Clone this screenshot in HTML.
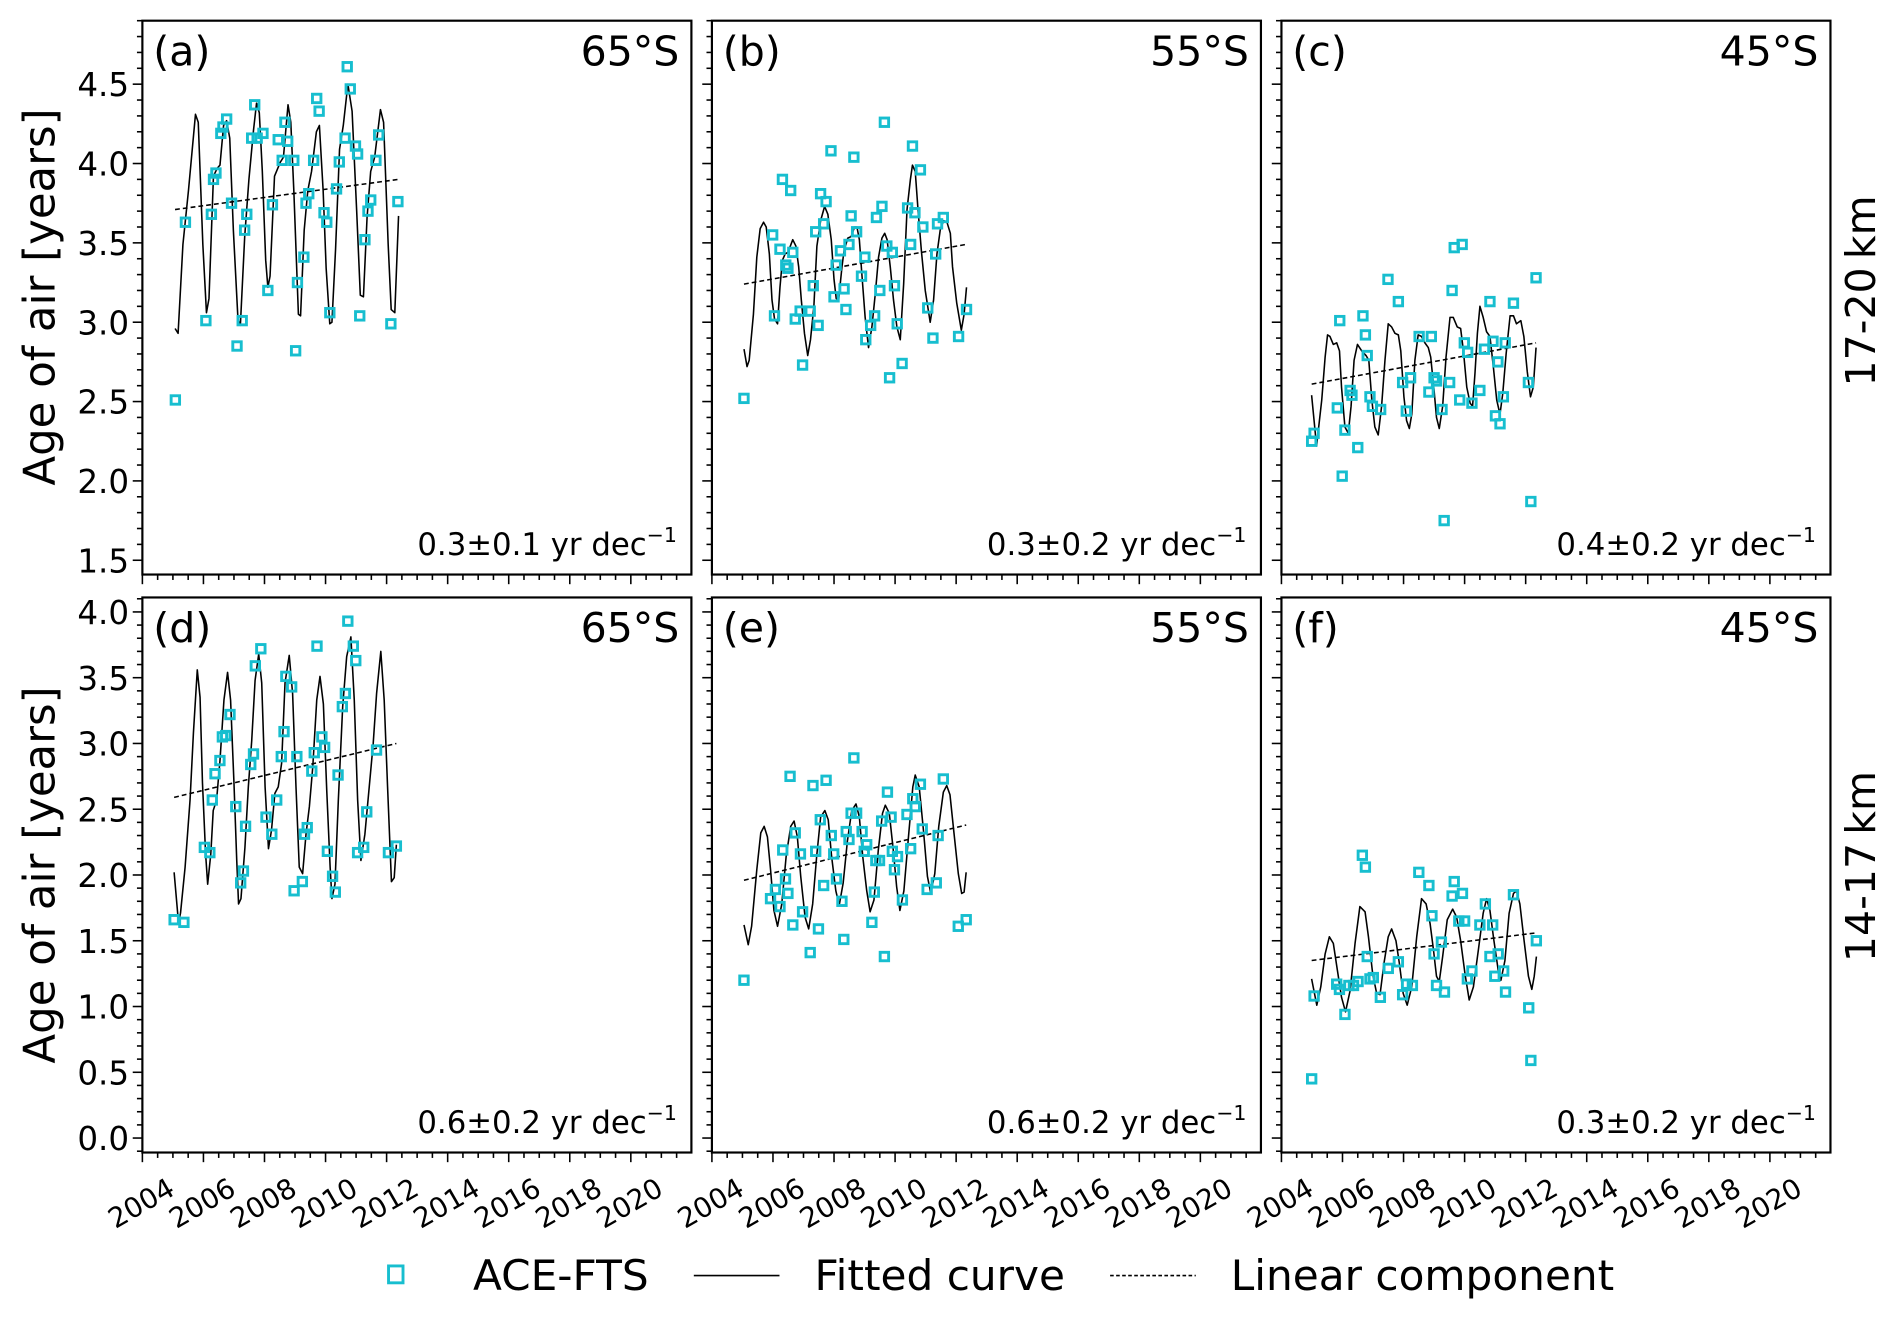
<!DOCTYPE html>
<html><head><meta charset="utf-8"><style>
html,body{margin:0;padding:0;background:#fff;}
svg{display:block;font-family:"DejaVu Sans","Liberation Sans",sans-serif;}
</style></head><body>
<svg id="fig" width="1892" height="1318" viewBox="0 0 1568 1092" xmlns="http://www.w3.org/2000/svg"></svg>
<script>
// Panel (a)
const aPointYears=[2005.08,2005.41,2006.08,2006.26,2006.33,2006.41,2006.57,2006.64,2006.76,2006.92,2007.10,2007.27,2007.35,2007.42,2007.58,2007.68,2007.76,2007.95,2008.11,2008.26,2008.45,2008.58,2008.67,2008.76,2008.96,2009.02,2009.08,2009.29,2009.36,2009.45,2009.61,2009.71,2009.79,2009.95,2010.04,2010.14,2010.36,2010.45,2010.64,2010.71,2010.81,2010.98,2011.05,2011.12,2011.29,2011.39,2011.48,2011.65,2011.74,2012.14,2012.37];
const aPointValues=[2.51,3.63,3.01,3.68,3.90,3.94,4.19,4.23,4.28,3.75,2.85,3.01,3.58,3.68,4.16,4.37,4.16,4.19,3.20,3.74,4.15,4.02,4.26,4.14,4.02,2.82,3.25,3.41,3.75,3.81,4.02,4.41,4.33,3.69,3.63,3.06,3.84,4.01,4.16,4.61,4.47,4.11,4.06,3.04,3.52,3.70,3.77,4.02,4.18,2.99,3.76];
const aCurveYears=[2005.07,2005.17,2005.33,2005.51,2005.74,2005.83,2005.98,2006.10,2006.18,2006.33,2006.45,2006.54,2006.66,2006.76,2006.86,2006.98,2007.13,2007.21,2007.35,2007.49,2007.64,2007.74,2007.83,2007.93,2008.04,2008.11,2008.18,2008.33,2008.52,2008.62,2008.77,2008.86,2008.96,2009.11,2009.18,2009.30,2009.42,2009.54,2009.70,2009.80,2009.92,2010.02,2010.14,2010.21,2010.33,2010.46,2010.58,2010.73,2010.87,2011.02,2011.14,2011.24,2011.36,2011.48,2011.61,2011.80,2011.90,2012.05,2012.15,2012.27,2012.39];
const aCurveValues=[2.96,2.93,3.49,3.83,4.31,4.26,3.49,3.06,3.15,3.92,3.97,3.99,4.24,4.27,4.16,3.58,3.02,2.98,3.54,3.90,4.21,4.38,4.32,3.95,3.39,3.22,3.29,3.92,4.01,4.04,4.37,4.26,3.83,3.05,3.04,3.58,3.83,3.95,4.20,4.24,3.83,3.34,2.99,3.00,3.46,4.09,4.24,4.50,4.33,3.70,3.17,3.16,3.66,3.95,4.04,4.34,4.26,3.49,3.08,3.06,3.67];
const aTrendYears=[2005.07,2012.39];
const aTrendValues=[3.71,3.90];
// Panel (b)
const bPointYears=[2005.05,2005.99,2006.23,2006.31,2006.42,2006.49,2006.58,2006.65,2006.05,2006.73,2006.89,2006.97,2007.22,2007.32,2007.40,2007.48,2007.56,2007.66,2007.74,2007.90,2008.00,2008.07,2008.21,2008.33,2008.39,2008.49,2008.56,2008.65,2008.74,2008.90,2009.01,2009.04,2009.20,2009.33,2009.39,2009.50,2009.57,2009.65,2009.73,2009.82,2009.91,2009.98,2010.07,2010.23,2010.41,2010.51,2010.57,2010.65,2010.83,2010.91,2011.07,2011.24,2011.33,2011.39,2011.58,2012.08,2012.34];
const bPointValues=[2.52,3.55,3.46,3.90,3.36,3.34,3.83,3.44,3.04,3.02,3.07,2.73,3.07,3.23,3.57,2.98,3.81,3.62,3.76,4.08,3.16,3.36,3.45,3.21,3.08,3.49,3.67,4.04,3.57,3.29,3.41,2.89,2.98,3.04,3.66,3.20,3.73,4.26,3.48,2.65,3.44,3.23,2.99,2.74,3.72,3.49,4.11,3.69,3.96,3.60,3.09,2.90,3.43,3.62,3.66,2.91,3.08];
const bCurveYears=[2005.05,2005.15,2005.22,2005.36,2005.47,2005.58,2005.69,2005.78,2005.88,2005.97,2006.05,2006.15,2006.23,2006.31,2006.40,2006.49,2006.57,2006.65,2006.75,2006.84,2006.93,2007.03,2007.14,2007.23,2007.34,2007.44,2007.56,2007.69,2007.80,2007.91,2008.00,2008.07,2008.15,2008.26,2008.33,2008.45,2008.56,2008.67,2008.75,2008.83,2008.91,2009.02,2009.13,2009.24,2009.35,2009.46,2009.57,2009.66,2009.74,2009.84,2009.95,2010.06,2010.17,2010.28,2010.39,2010.50,2010.57,2010.66,2010.75,2010.86,2010.99,2011.15,2011.26,2011.37,2011.48,2011.59,2011.70,2011.81,2011.88,2012.02,2012.17,2012.26,2012.34];
const bCurveValues=[2.83,2.72,2.76,3.05,3.41,3.59,3.63,3.60,3.43,3.14,3.02,2.99,3.22,3.39,3.43,3.44,3.48,3.52,3.48,3.35,3.14,2.93,2.79,2.89,3.10,3.48,3.64,3.73,3.68,3.52,3.27,3.15,3.14,3.35,3.45,3.53,3.54,3.60,3.60,3.52,3.31,3.03,2.84,2.97,3.18,3.41,3.53,3.56,3.52,3.35,3.14,2.97,2.89,3.24,3.71,3.90,3.99,3.95,3.71,3.45,3.20,3.00,3.14,3.43,3.58,3.64,3.63,3.56,3.35,3.12,2.95,3.05,3.22];
const bTrendYears=[2005.05,2012.32];
const bTrendValues=[3.24,3.49];
// Panel (c)
const cPointYears=[2004.99,2005.07,2005.91,2005.83,2005.99,2006.08,2006.25,2006.31,2006.50,2006.67,2006.75,2006.81,2006.90,2006.98,2007.25,2007.49,2007.83,2007.97,2008.09,2008.23,2008.51,2008.83,2008.91,2009.00,2009.08,2009.26,2009.33,2009.51,2009.59,2009.66,2009.92,2009.84,2009.99,2010.10,2010.24,2010.50,2010.65,2010.83,2010.93,2011.01,2011.09,2011.16,2011.27,2011.33,2011.60,2012.09,2012.17,2012.34];
const cPointValues=[2.25,2.30,3.01,2.46,2.03,2.32,2.57,2.54,2.21,3.04,2.92,2.79,2.53,2.47,2.45,3.27,3.13,2.62,2.44,2.65,2.91,2.56,2.91,2.65,2.63,2.45,1.75,2.62,3.20,3.47,3.49,2.51,2.87,2.81,2.49,2.57,2.83,3.13,2.88,2.41,2.75,2.36,2.53,2.87,3.12,2.62,1.87,3.28];
const cCurveYears=[2004.99,2005.15,2005.32,2005.43,2005.51,2005.59,2005.70,2005.81,2005.90,2005.97,2006.08,2006.19,2006.28,2006.38,2006.49,2006.63,2006.77,2006.86,2006.96,2007.06,2007.17,2007.28,2007.39,2007.50,2007.61,2007.72,2007.83,2007.91,2008.01,2008.10,2008.19,2008.27,2008.37,2008.48,2008.59,2008.70,2008.81,2008.89,2009.00,2009.08,2009.17,2009.28,2009.39,2009.52,2009.63,2009.76,2009.87,2009.96,2010.07,2010.18,2010.26,2010.34,2010.42,2010.50,2010.61,2010.72,2010.83,2010.94,2011.05,2011.16,2011.25,2011.36,2011.49,2011.60,2011.70,2011.84,2011.94,2012.05,2012.16,2012.25,2012.34];
const cCurveValues=[2.54,2.22,2.51,2.78,2.92,2.91,2.86,2.87,2.82,2.59,2.34,2.30,2.47,2.76,2.86,2.82,2.79,2.76,2.51,2.34,2.29,2.47,2.76,2.99,2.97,2.93,2.92,2.82,2.53,2.38,2.33,2.42,2.76,2.92,2.91,2.87,2.84,2.78,2.57,2.40,2.33,2.47,2.78,3.03,3.03,2.97,2.96,2.82,2.59,2.49,2.47,2.68,2.93,3.10,3.03,2.94,2.91,2.72,2.51,2.42,2.55,2.80,3.04,3.04,2.99,3.01,2.91,2.69,2.53,2.59,2.84];
const cTrendYears=[2004.99,2012.34];
const cTrendValues=[2.61,2.87];
// Panel (d)
const dPointYears=[2005.04,2005.36,2006.03,2006.21,2006.29,2006.38,2006.54,2006.62,2006.73,2006.87,2007.06,2007.22,2007.31,2007.38,2007.55,2007.64,2007.70,2007.88,2008.05,2008.24,2008.40,2008.55,2008.64,2008.70,2008.89,2008.97,2009.06,2009.24,2009.31,2009.40,2009.55,2009.63,2009.72,2009.88,2009.97,2010.06,2010.23,2010.32,2010.41,2010.55,2010.65,2010.73,2010.91,2010.99,2011.05,2011.25,2011.35,2011.67,2012.06,2012.32];
const dPointValues=[1.66,1.64,2.21,2.17,2.57,2.77,2.87,3.05,3.06,3.22,2.52,1.94,2.03,2.37,2.84,2.92,3.59,3.72,2.44,2.31,2.57,2.90,3.09,3.51,3.43,1.88,2.90,1.95,2.31,2.36,2.79,2.93,3.74,3.05,2.97,2.18,1.99,1.87,2.76,3.28,3.38,3.93,3.74,3.63,2.17,2.21,2.48,2.95,2.17,2.22];
const dCurveYears=[2005.04,2005.18,2005.25,2005.40,2005.56,2005.67,2005.80,2005.89,2005.97,2006.07,2006.14,2006.24,2006.32,2006.43,2006.54,2006.67,2006.79,2006.89,2007.00,2007.09,2007.15,2007.23,2007.36,2007.47,2007.58,2007.69,2007.81,2007.91,2008.02,2008.13,2008.23,2008.34,2008.45,2008.56,2008.67,2008.81,2008.92,2009.03,2009.14,2009.25,2009.36,2009.47,2009.58,2009.71,2009.82,2009.93,2010.04,2010.15,2010.21,2010.31,2010.42,2010.56,2010.69,2010.83,2010.94,2011.05,2011.16,2011.29,2011.43,2011.56,2011.67,2011.81,2011.92,2012.03,2012.16,2012.25,2012.32];
const dCurveValues=[2.02,1.64,1.71,2.06,2.57,3.08,3.56,3.35,2.70,2.16,1.93,2.16,2.49,2.57,2.87,3.33,3.54,3.33,2.70,2.11,1.78,1.82,2.21,2.67,3.02,3.48,3.68,3.46,2.67,2.20,2.34,2.62,2.67,2.85,3.46,3.67,3.38,2.67,2.06,2.01,2.31,2.52,2.82,3.33,3.51,3.30,2.64,2.06,1.82,1.93,2.57,3.28,3.66,3.81,3.33,2.57,2.11,2.31,2.67,3.00,3.38,3.70,3.33,2.67,1.95,1.98,2.23];
const dTrendYears=[2005.04,2012.32];
const dTrendValues=[2.59,3.00];
// Panel (e)
const ePointYears=[2005.05,2005.92,2006.08,2006.23,2006.32,2006.41,2006.49,2006.56,2006.65,2006.73,2006.90,2006.97,2007.22,2007.31,2007.40,2007.49,2007.55,2007.66,2007.74,2007.91,2007.99,2008.08,2008.26,2008.32,2008.40,2008.49,2008.56,2008.65,2008.74,2008.92,2008.99,2009.07,2009.24,2009.32,2009.37,2009.49,2009.56,2009.65,2009.75,2009.87,2009.91,2009.98,2010.08,2010.24,2010.39,2010.51,2010.58,2010.66,2010.83,2010.89,2011.05,2011.35,2011.41,2011.58,2012.07,2012.33];
const ePointValues=[1.20,1.82,1.89,1.76,2.19,1.97,1.86,2.75,1.62,2.32,2.16,1.72,1.41,2.68,2.18,1.59,2.42,1.92,2.72,2.30,2.16,1.97,1.80,1.51,2.33,2.27,2.47,2.89,2.47,2.33,2.18,2.23,1.64,1.87,2.11,2.11,2.41,1.38,2.63,2.44,2.18,2.04,2.14,1.81,2.46,2.20,2.58,2.52,2.69,2.35,1.89,1.94,2.30,2.73,1.61,1.66];
const eCurveYears=[2005.05,2005.19,2005.30,2005.47,2005.60,2005.71,2005.82,2005.92,2006.03,2006.15,2006.29,2006.43,2006.58,2006.69,2006.80,2006.91,2007.05,2007.17,2007.30,2007.43,2007.56,2007.70,2007.81,2007.92,2008.06,2008.17,2008.30,2008.44,2008.58,2008.72,2008.83,2008.94,2009.07,2009.18,2009.31,2009.45,2009.59,2009.68,2009.81,2009.94,2010.05,2010.16,2010.29,2010.44,2010.58,2010.66,2010.79,2010.93,2011.06,2011.17,2011.30,2011.43,2011.58,2011.69,2011.80,2011.93,2012.07,2012.18,2012.26,2012.33];
const eCurveValues=[1.62,1.47,1.61,2.04,2.32,2.37,2.29,2.04,1.73,1.61,1.78,2.14,2.37,2.41,2.29,1.99,1.68,1.59,1.78,2.14,2.44,2.49,2.42,2.14,1.88,1.77,1.94,2.26,2.49,2.54,2.44,2.14,1.88,1.72,1.81,2.19,2.47,2.53,2.47,2.19,1.91,1.73,1.88,2.29,2.67,2.76,2.67,2.34,1.99,1.86,2.01,2.37,2.63,2.68,2.61,2.32,2.01,1.86,1.87,2.02];
const eTrendYears=[2005.05,2012.33];
const eTrendValues=[1.96,2.38];
// Panel (f)
const fPointYears=[2004.99,2005.07,2005.81,2005.90,2006.08,2006.21,2006.36,2006.51,2006.65,2006.75,2006.81,2006.90,2007.01,2007.24,2007.50,2007.83,2007.97,2008.10,2008.29,2008.50,2008.83,2008.93,2009.00,2009.08,2009.24,2009.34,2009.59,2009.66,2009.81,2009.93,2010.00,2010.09,2010.24,2010.50,2010.68,2010.83,2010.92,2010.99,2011.10,2011.28,2011.34,2011.60,2012.10,2012.17,2012.35];
const fPointValues=[0.45,1.08,1.17,1.13,0.94,1.16,1.16,1.19,2.15,2.06,1.38,1.21,1.22,1.07,1.29,1.34,1.09,1.17,1.16,2.02,1.92,1.69,1.40,1.16,1.49,1.11,1.84,1.95,1.65,1.86,1.65,1.21,1.27,1.62,1.78,1.38,1.62,1.23,1.40,1.27,1.11,1.85,0.99,0.59,1.50];
const fCurveYears=[2004.99,2005.16,2005.29,2005.43,2005.57,2005.70,2005.83,2005.97,2006.10,2006.25,2006.41,2006.57,2006.74,2006.85,2006.99,2007.12,2007.23,2007.36,2007.50,2007.61,2007.75,2007.86,2007.99,2008.12,2008.27,2008.43,2008.59,2008.74,2008.87,2008.98,2009.08,2009.17,2009.28,2009.43,2009.61,2009.74,2009.87,2010.01,2010.15,2010.29,2010.45,2010.61,2010.72,2010.83,2010.96,2011.10,2011.19,2011.32,2011.46,2011.60,2011.70,2011.81,2011.95,2012.09,2012.20,2012.28,2012.35];
const fCurveValues=[1.21,1.01,1.15,1.40,1.53,1.48,1.28,1.07,0.96,1.12,1.48,1.76,1.72,1.53,1.25,1.10,1.09,1.33,1.53,1.59,1.50,1.33,1.10,1.01,1.15,1.53,1.82,1.78,1.63,1.43,1.23,1.19,1.38,1.66,1.74,1.68,1.50,1.25,1.05,1.15,1.43,1.71,1.82,1.73,1.50,1.28,1.20,1.35,1.71,1.86,1.88,1.78,1.50,1.23,1.13,1.23,1.38];
const fTrendYears=[2004.99,2012.35];
const fTrendValues=[1.35,1.56];

const xTickLabels=["2004","2006","2008","2010","2012","2014","2016","2018","2020"];
const row1YTickLabels=["1.5","2.0","2.5","3.0","3.5","4.0","4.5"];
const row2YTickLabels=["0.0","0.5","1.0","1.5","2.0","2.5","3.0","3.5","4.0"];

const NS="http://www.w3.org/2000/svg";
const svg=document.getElementById('fig');
function mk(tag,attrs,parent){const e=document.createElementNS(NS,tag);for(const k in attrs)e.setAttribute(k,attrs[k]);(parent||svg).appendChild(e);return e;}

const W=455;
const panelX=[118,590,1062];
const rows=[{top:17,bottom:476,ymin:1.41,ymax:4.90,ticks:row1YTickLabels},{top:495,bottom:955,ymin:-0.11,ymax:4.11,ticks:row2YTickLabels}];
const XMIN=2004, PXY=25.3;

const panels=[
 {id:'a',row:0,col:0,lat:'65°S',trend:'0.3±0.1',py:aPointYears,pv:aPointValues,cy:aCurveYears,cv:aCurveValues,ty:aTrendYears,tv:aTrendValues},
 {id:'b',row:0,col:1,lat:'55°S',trend:'0.3±0.2',py:bPointYears,pv:bPointValues,cy:bCurveYears,cv:bCurveValues,ty:bTrendYears,tv:bTrendValues},
 {id:'c',row:0,col:2,lat:'45°S',trend:'0.4±0.2',py:cPointYears,pv:cPointValues,cy:cCurveYears,cv:cCurveValues,ty:cTrendYears,tv:cTrendValues},
 {id:'d',row:1,col:0,lat:'65°S',trend:'0.6±0.2',py:dPointYears,pv:dPointValues,cy:dCurveYears,cv:dCurveValues,ty:dTrendYears,tv:dTrendValues},
 {id:'e',row:1,col:1,lat:'55°S',trend:'0.6±0.2',py:ePointYears,pv:ePointValues,cy:eCurveYears,cv:eCurveValues,ty:eTrendYears,tv:eTrendValues},
 {id:'f',row:1,col:2,lat:'45°S',trend:'0.3±0.2',py:fPointYears,pv:fPointValues,cy:fCurveYears,cv:fCurveValues,ty:fTrendYears,tv:fTrendValues}
];

panels.forEach(p=>{
  const r=rows[p.row], x0=panelX[p.col];
  const g=mk('g',{});
  
  
  const xs=y=>x0+(y-XMIN)*PXY;
  const ys=v=>r.bottom-(v-r.ymin)/(r.ymax-r.ymin)*(r.bottom-r.top);
  const tg=mk('g',{stroke:'#000','stroke-width':1.3},g);
  for(let yr=2004;yr<=2021.9;yr+=0.5){
    const X=xs(yr);const major=Math.abs(yr%2)<1e-6;
    mk('line',{x1:X,x2:X,y1:r.bottom,y2:r.bottom+(major?8:4.5)},tg);
  }
  for(let k=0;k*0.1+ Math.ceil(r.ymin*10)/10<=r.ymax+1e-9;k++){
    const v=Math.ceil(r.ymin*10)/10+k*0.1;const Y=ys(v);
    const major=Math.abs(Math.round(v*10)%5)===0;
    mk('line',{x1:x0,x2:x0-(major?8:4.5),y1:Y,y2:Y},tg);
  }
  if(p.col===0){
    r.ticks.forEach(t=>{
      const e=mk('text',{x:x0-11,y:ys(parseFloat(t))+10,'text-anchor':'end','font-size':27,fill:'#000'},g);
      e.textContent=t;
      
      
    });
  }
  if(p.row===1){
    xTickLabels.forEach(t=>{
      const X=xs(parseFloat(t))-1, Y=r.bottom+42;
      const e=mk('text',{x:X,y:Y,'text-anchor':'middle','dominant-baseline':'central','font-size':23,fill:'#000',transform:`rotate(-30 ${X} ${Y})`},g);
      e.textContent=t;
      
      
    });
  }
  const tl=mk('line',{x1:xs(p.ty[0]),y1:ys(p.tv[0]),x2:xs(p.ty[1]),y2:ys(p.tv[1]),stroke:'#000','stroke-width':1.3,'stroke-dasharray':'4,2.5'},g);
  
  
  const d=p.cy.map((y,i)=>(i?'L':'M')+xs(y).toFixed(1)+','+ys(p.cv[i]).toFixed(1)).join(' ');
  const cp=mk('path',{d:d,fill:'none',stroke:'#000','stroke-width':1.3,'stroke-linejoin':'round'},g);
  
  
  p.py.forEach((y,i)=>{
    const X=xs(y),Y=ys(p.pv[i]);
    const s=mk('rect',{x:X-3.5,y:Y-3.5,width:7,height:7,fill:'none',stroke:'#17becf','stroke-width':2.4},g);
    
    
  });
  const fr=mk('rect',{x:x0,y:r.top,width:W,height:r.bottom-r.top,fill:'none',stroke:'#000','stroke-width':1.8},g);
  
  
  const lb=mk('text',{x:x0+9,y:r.top+37,'font-size':34,fill:'#000'},g);
  lb.textContent='('+p.id+')';
  
  
  const la=mk('text',{x:x0+W-10,y:r.top+37,'font-size':34,'text-anchor':'end',fill:'#000'},g);
  la.textContent=p.lat;
  
  
  const tr=mk('text',{x:x0+W-12,y:r.bottom-16,'font-size':25.5,'text-anchor':'end',fill:'#000'},g);
  tr.innerHTML=p.trend+' yr dec<tspan font-size="17" dy="-11">−1</tspan>';
  
  
});
</script>
<script>
(function(){
const NS="http://www.w3.org/2000/svg";const svg=document.getElementById('fig');
function t(txt,attrs,name){const e=document.createElementNS(NS,'text');for(const k in attrs)e.setAttribute(k,attrs[k]);e.textContent=txt;


svg.appendChild(e);return e;}
t('Age of air [years]',{x:0,y:0,'font-size':36,'text-anchor':'middle',transform:'translate(45 246) rotate(-90)'},'y-axis-title-top');
t('Age of air [years]',{x:0,y:0,'font-size':36,'text-anchor':'middle',transform:'translate(45 725) rotate(-90)'},'y-axis-title-bottom');
t('17-20\u2009km',{x:0,y:0,'font-size':34,'text-anchor':'middle',transform:'translate(1554 241) rotate(-90)'},'row-label-17-20km');
t('14-17\u2009km',{x:0,y:0,'font-size':34,'text-anchor':'middle',transform:'translate(1554 718) rotate(-90)'},'row-label-14-17km');
const lg=document.createElementNS(NS,'g');


svg.appendChild(lg);
function add(tag,attrs,name){const e=document.createElementNS(NS,tag);for(const k in attrs)e.setAttribute(k,attrs[k]);


lg.appendChild(e);return e;}
add('rect',{x:322,y:1049,width:12,height:14,fill:'none',stroke:'#17becf','stroke-width':2.4},'legend-marker-ace-fts');
add('line',{x1:575,x2:646,y1:1057,y2:1057,stroke:'#000','stroke-width':1.3},'legend-line-fitted');
add('line',{x1:920,x2:991,y1:1057,y2:1057,stroke:'#000','stroke-width':1.3,'stroke-dasharray':'3,2'},'legend-line-linear');
const a=add('text',{x:392,y:1069,'font-size':35},'legend-entry-ace-fts');a.textContent='ACE-FTS';
const b=add('text',{x:675,y:1069,'font-size':35},'legend-entry-fitted-curve');b.textContent='Fitted curve';
const c=add('text',{x:1020,y:1069,'font-size':35},'legend-entry-linear-component');c.textContent='Linear component';
})();
</script>
</body></html>
